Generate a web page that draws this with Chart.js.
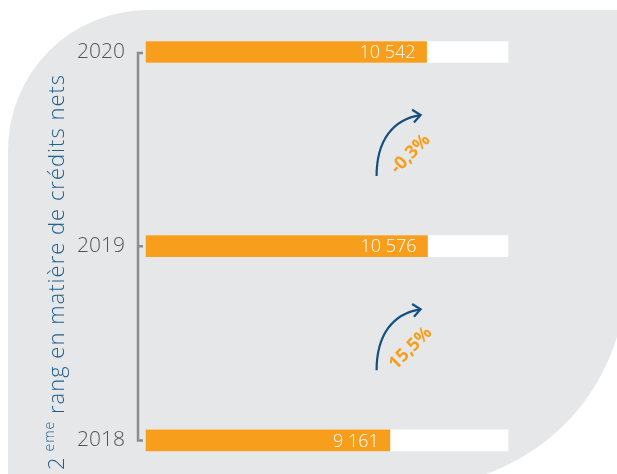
<!DOCTYPE html>
<html>
<head>
<meta charset="utf-8">
<script src="https://cdn.jsdelivr.net/npm/chart.js@4.4.0/dist/chart.umd.min.js"></script>
<style>
  html, body { margin: 0; padding: 0; background: #fff; overflow: hidden; }
  #wrap { position: relative; width: 617px; height: 474px; }
  #panel {
    position: absolute; left: 8px; top: 10px; width: 618px; height: 476px;
    background: #e6e7e9; border-radius: 140px 0 210px 0;
  }
  #chart { position: absolute; left: 0; top: 0; }
</style>
</head>
<body>
<div id="wrap">
  <div id="panel"></div>
  <canvas id="chart" width="617" height="474"></canvas>
</div>
<script>
// data
const years = ["2020", "2019", "2018"];
const netCredits = [10542, 10576, 9161];
const changeLabels = ["-0,3%", "15,5%"];
const titleParts = ["2", "eme", " rang en matière de crédits nets"];
const scaleMax = 13600;
const trackValues = years.map(() => scaleMax);

const ORANGE = "#f79e1c";
const BLUE = "#13507f";
const FONT = "'Open Sans', Lato, sans-serif";

function formatValue(v) {
  return String(v).replace(/\B(?=(\d{3})+(?!\d))/g, " ");
}

const decorPlugin = {
  id: "decor",
  afterDatasetsDraw(chart) {
    const { ctx, chartArea, scales } = chart;
    const x = scales.x;
    const y = scales.y;

    ctx.save();

    // bracket axis on the left
    const top = y.getPixelForValue(0);
    const bottom = y.getPixelForValue(years.length - 1);
    const ax = chartArea.left - 8;
    ctx.strokeStyle = "#8d8d8d";
    ctx.lineWidth = 2.5;
    ctx.beginPath();
    ctx.moveTo(ax + 5, top + 1);
    ctx.lineTo(ax, top + 1);
    ctx.lineTo(ax, bottom);
    ctx.lineTo(ax + 5, bottom);
    for (let i = 1; i < years.length - 1; i++) {
      const py = y.getPixelForValue(i);
      ctx.moveTo(ax, py);
      ctx.lineTo(ax + 5, py);
    }
    ctx.stroke();

    // value labels inside bars
    const meta = chart.getDatasetMeta(0);
    ctx.fillStyle = "#ffffff";
    ctx.font = "300 18px " + FONT;
    ctx.textAlign = "right";
    ctx.textBaseline = "middle";
    meta.data.forEach((bar, i) => {
      ctx.fillText(formatValue(netCredits[i]), bar.x - 11, bar.y + 1);
    });

    // change arrows between years
    changeLabels.forEach((label, i) => {
      const cy = (y.getPixelForValue(i) + y.getPixelForValue(i + 1)) / 2;
      const sx = x.left + (x.right - x.left) * 0.637;
      const ex = sx + 44;
      const ey = cy - 34;
      ctx.strokeStyle = BLUE;
      ctx.lineWidth = 2.2;
      ctx.beginPath();
      ctx.moveTo(sx, cy + 27);
      ctx.bezierCurveTo(sx, cy - 8, sx + 16, ey + 4, ex, ey);
      ctx.stroke();
      const ang = Math.atan2(-4, 28);
      const len = 10;
      ctx.beginPath();
      ctx.moveTo(ex - len * Math.cos(ang - 0.7), ey - len * Math.sin(ang - 0.7));
      ctx.lineTo(ex, ey);
      ctx.lineTo(ex - len * Math.cos(ang + 0.7), ey - len * Math.sin(ang + 0.7));
      ctx.stroke();

      ctx.save();
      ctx.translate(sx + 34, cy + 5);
      ctx.rotate(-Math.PI / 4);
      ctx.fillStyle = ORANGE;
      ctx.font = "bold 18px " + FONT;
      ctx.textAlign = "center";
      ctx.textBaseline = "middle";
      ctx.fillText(label, 0, 0);
      ctx.restore();
    });

    // rotated axis title with superscript
    ctx.save();
    ctx.translate(64, 470);
    ctx.rotate(-Math.PI / 2);
    ctx.fillStyle = "#1f5f8e";
    ctx.textAlign = "left";
    ctx.textBaseline = "alphabetic";
    ctx.letterSpacing = "1px";
    ctx.font = "300 22px " + FONT;
    let pos = 0;
    ctx.fillText(titleParts[0], pos, 0);
    pos += ctx.measureText(titleParts[0]).width + 5;
    ctx.font = "300 14px " + FONT;
    ctx.fillText(titleParts[1], pos, -10);
    pos += ctx.measureText(titleParts[1]).width;
    ctx.font = "300 22px " + FONT;
    ctx.fillText(titleParts[2], pos, 0);
    ctx.restore();

    ctx.restore();
  }
};

new Chart(document.getElementById("chart"), {
  type: "bar",
  data: {
    labels: years,
    datasets: [
      {
        label: "Crédits nets",
        data: netCredits,
        backgroundColor: ORANGE,
        barThickness: 21,
        grouped: false,
        clip: false
      },
      {
        label: "track",
        data: trackValues,
        backgroundColor: "#ffffff",
        barThickness: 21,
        grouped: false,
        clip: false
      }
    ]
  },
  options: {
    indexAxis: "y",
    responsive: false,
    animation: false,
    devicePixelRatio: 1,
    layout: {
      padding: { top: 52, bottom: 31, left: 0, right: 109 }
    },
    scales: {
      x: {
        display: false,
        min: 0,
        max: scaleMax
      },
      y: {
        offset: false,
        grid: { display: false, drawTicks: false },
        border: { display: false },
        ticks: {
          color: "#555555",
          font: { family: FONT, size: 21, weight: "300" },
          padding: 21
        },
        afterFit(scale) {
          scale.width = 146;
        }
      }
    },
    plugins: {
      legend: { display: false },
      tooltip: { enabled: false }
    }
  },
  plugins: [decorPlugin]
});
</script>
</body>
</html>
